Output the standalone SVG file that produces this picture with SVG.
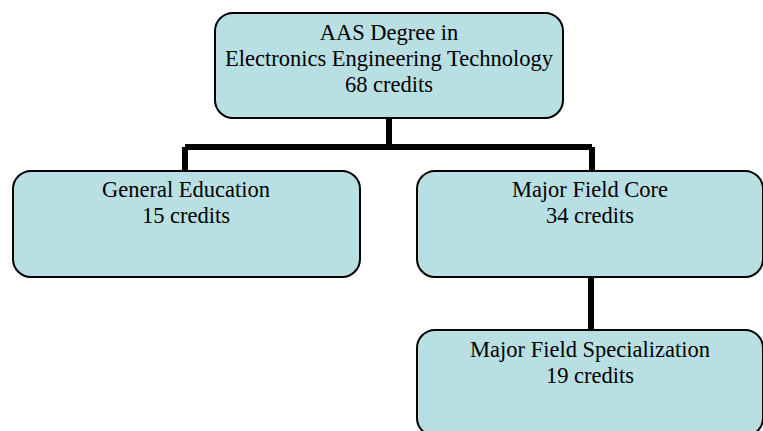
<svg xmlns="http://www.w3.org/2000/svg" width="763" height="431" viewBox="0 0 763 431">
<style>
.box{fill:#b8dfe2;stroke:#000;stroke-width:2}
.t{font-family:"Liberation Serif","Times New Roman",serif;font-size:22.5px;fill:#000;text-anchor:middle}
.c{stroke:#000;stroke-width:6;fill:none}
</style>
<rect width="763" height="431" fill="#fff"/>
<g id="connectors">
<path class="c" d="M389 118V147M185 147H592M185 147V172M592 147V172"/>
<path class="c" d="M591 277V331"/>
</g>
<g id="root">
<rect class="box" x="215" y="13" width="348" height="105" rx="18"/>
<text class="t" x="389" y="40">AAS Degree in</text>
<text class="t" x="389" y="66">Electronics Engineering Technology</text>
<text class="t" x="389" y="92">68 credits</text>
</g>
<g id="gened">
<rect class="box" x="13" y="171" width="347" height="106" rx="18"/>
<text class="t" x="186" y="197">General Education</text>
<text class="t" x="186" y="223">15 credits</text>
</g>
<g id="core">
<rect class="box" x="417" y="171" width="346" height="106" rx="18"/>
<text class="t" x="590" y="197">Major Field Core</text>
<text class="t" x="590" y="223">34 credits</text>
</g>
<g id="spec">
<rect class="box" x="417" y="330" width="346" height="106" rx="18"/>
<text class="t" x="590" y="357">Major Field Specialization</text>
<text class="t" x="590" y="383">19 credits</text>
</g>
</svg>
